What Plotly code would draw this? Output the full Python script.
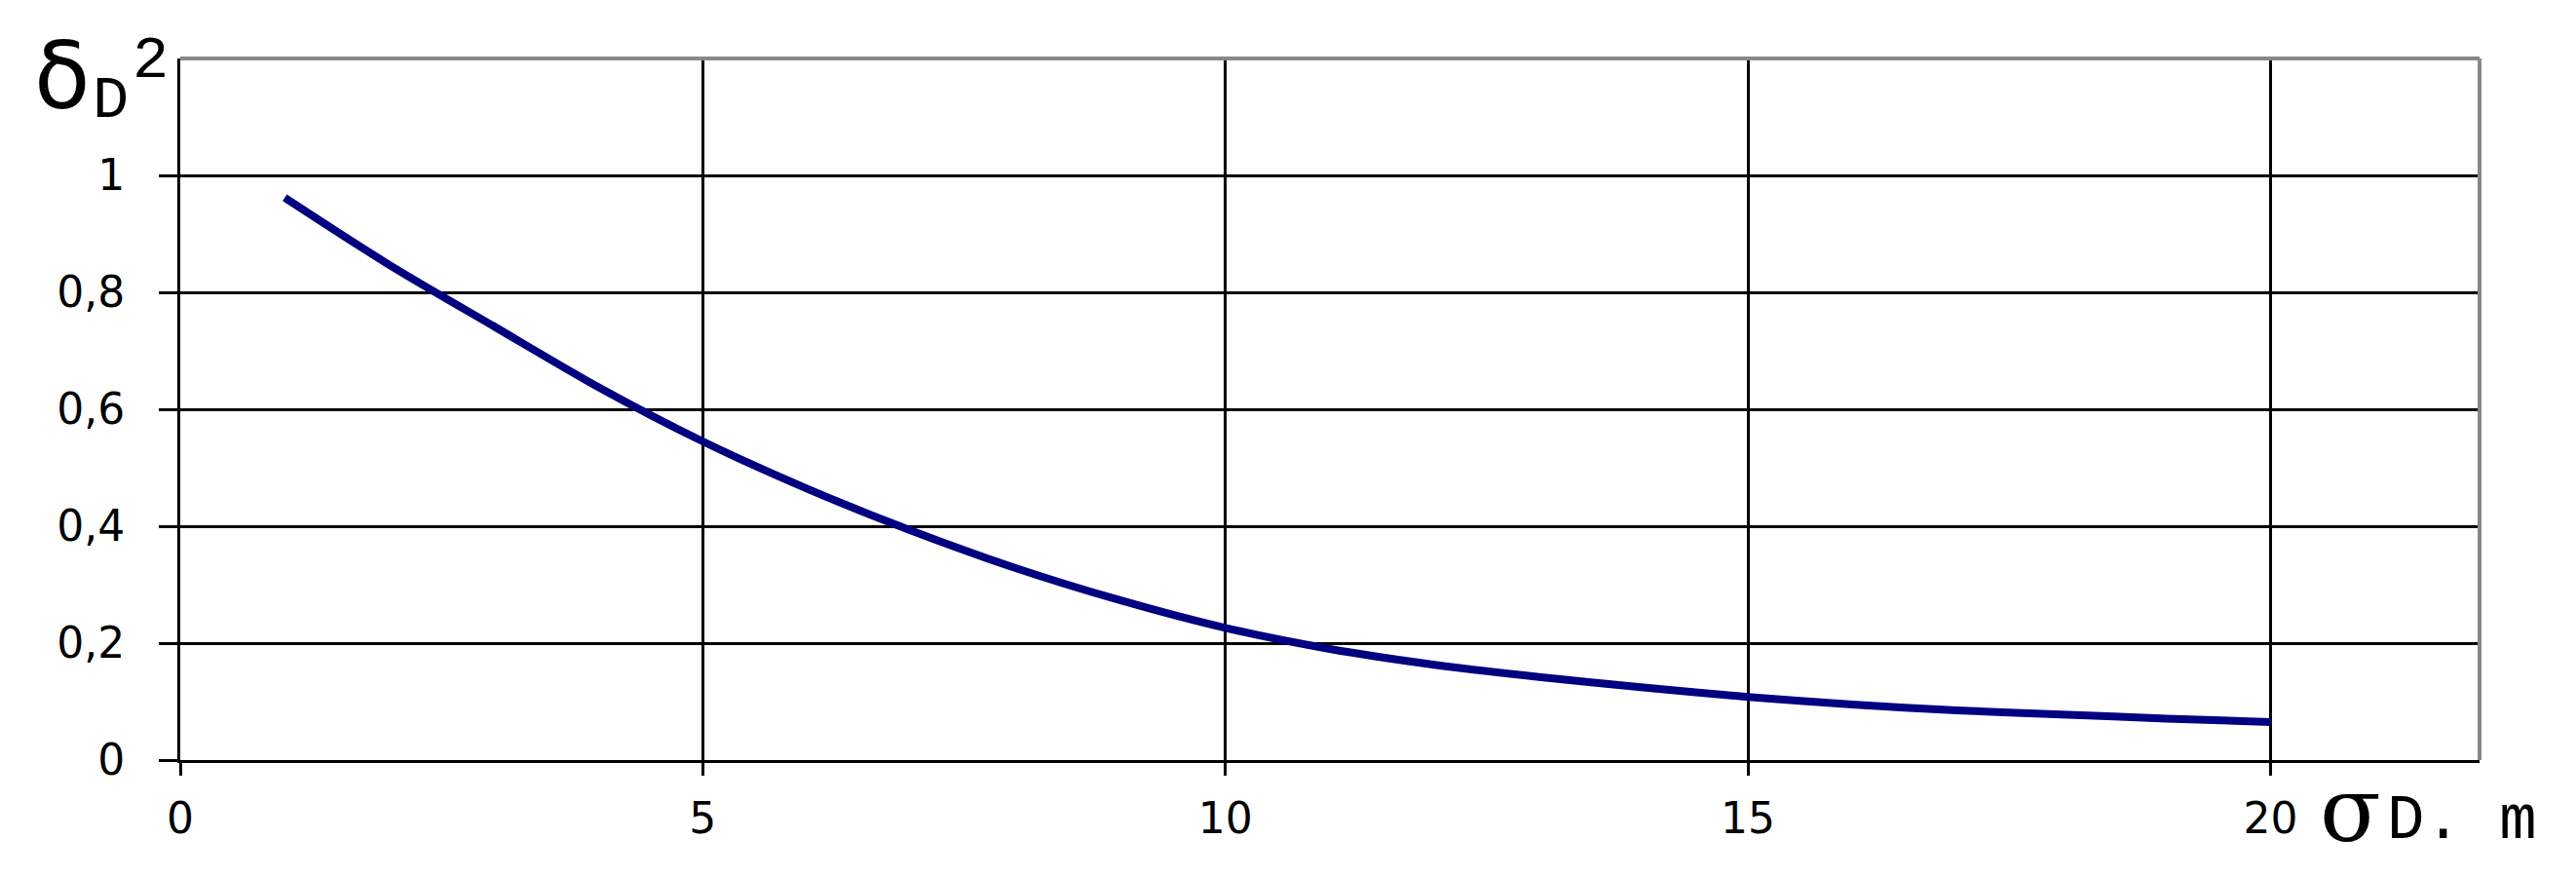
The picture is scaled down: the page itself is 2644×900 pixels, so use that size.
import plotly.graph_objects as go

# sigma_D (m) and delta_D^2
sigma_d = [1, 2, 3, 4, 5, 6, 7, 8, 9, 10, 11, 12, 13, 14, 15, 16, 17, 18, 19, 20]
delta_sq = [0.962, 0.847, 0.742, 0.638, 0.545, 0.464, 0.392, 0.328, 0.273, 0.226,
            0.190, 0.163, 0.142, 0.124, 0.108, 0.095, 0.085, 0.078, 0.071, 0.065]

x_ticks = [0, 5, 10, 15, 20]
x_labels = ["0", "5", "10", "15", "20"]
y_ticks = [0, 0.2, 0.4, 0.6, 0.8, 1]
y_labels = ["0", "0,2", "0,4", "0,6", "0,8", "1"]

fig = go.Figure(go.Scatter(
    x=sigma_d, y=delta_sq, mode="lines",
    line=dict(color="#000080", width=8, shape="spline", smoothing=0.8),
    showlegend=False))

tick_font = dict(family="DejaVu Sans", size=44, color="black")

fig.update_xaxes(
    range=[0, 22], tickvals=x_ticks, ticktext=x_labels,
    showgrid=True, gridcolor="black", gridwidth=3, zeroline=False,
    showline=True, linecolor="black", linewidth=3,
    ticks="outside", ticklen=13, tickwidth=3, tickcolor="black",
    tickfont=tick_font, ticklabelstandoff=6)
fig.update_yaxes(
    range=[0, 1.2], tickvals=y_ticks, ticktext=y_labels,
    showgrid=True, gridcolor="black", gridwidth=3, zeroline=False,
    showline=True, linecolor="black", linewidth=3,
    ticks="outside", ticklen=19, tickwidth=3, tickcolor="black",
    tickfont=tick_font, ticklabelstandoff=26)

# grey frame on top and right
fig.add_shape(type="line", xref="paper", yref="paper", x0=0, x1=1, y0=1, y1=1,
              line=dict(color="#888888", width=4))
fig.add_shape(type="line", xref="paper", yref="paper", x0=1, x1=1, y0=0, y1=1,
              line=dict(color="#888888", width=4))

# axis titles
fig.add_annotation(text="δ", xref="paper", yref="paper", x=-0.0513, y=0.975,
                   xanchor="center", yanchor="middle", showarrow=False,
                   font=dict(family="DejaVu Sans", size=94, color="black"))
fig.add_annotation(text="D", xref="paper", yref="paper", x=-0.0301, y=0.940,
                   xanchor="center", yanchor="middle", showarrow=False,
                   font=dict(family="Liberation Mono", size=62, color="black"))
fig.add_annotation(text="2", xref="paper", yref="paper", x=-0.0131, y=0.997,
                   xanchor="center", yanchor="middle", showarrow=False,
                   font=dict(family="Liberation Mono", size=62, color="black"))
fig.add_annotation(text="σ", xref="paper", yref="paper", x=0.9440, y=-0.072,
                   xanchor="center", yanchor="middle", showarrow=False,
                   font=dict(family="DejaVu Serif", size=92, color="black"))
fig.add_annotation(text="D. m", xref="paper", yref="paper", x=0.9590, y=-0.088,
                   xanchor="left", yanchor="middle", showarrow=False,
                   font=dict(family="Liberation Mono", size=64, color="black"))

fig.update_layout(
    width=2644, height=900,
    margin=dict(l=177, r=107, t=52, b=128),
    plot_bgcolor="white", paper_bgcolor="white")

fig.write_html("out.html")
